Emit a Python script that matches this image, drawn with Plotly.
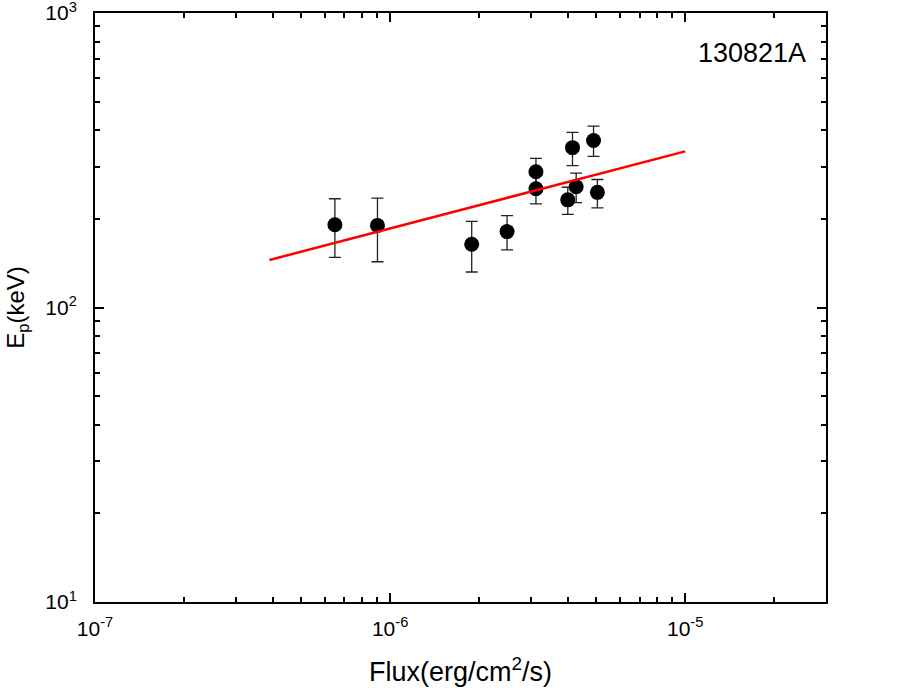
import plotly.graph_objects as go

# data
flux = [6.5e-7, 9.06e-7, 1.89e-6, 2.49e-6, 3.12e-6, 3.12e-6, 4.15e-6, 4.00e-6, 4.27e-6, 4.89e-6, 5.04e-6]
ep = [191, 190, 164, 181, 289, 253, 349, 232, 257, 369, 246]
ep_hi = [234, 235, 196, 205, 321, 285, 393, 256, 286, 413, 272]
ep_lo = [148, 143, 132, 157, 259, 225, 303, 207, 227, 326, 218]

fit_flux = [3.9e-7, 1.0e-5]
fit_ep = [145, 339]

x_tickvals = [1e-7, 1e-6, 1e-5]
x_ticktext = ['10<sup>-7</sup>', '10<sup>-6</sup>', '10<sup>-5</sup>']
y_tickvals = [10, 100, 1000]
y_ticktext = ['10<sup>1</sup>', '10<sup>2</sup>', '10<sup>3</sup>']

err_plus = [h - v for h, v in zip(ep_hi, ep)]
err_minus = [v - l for v, l in zip(ep, ep_lo)]

FONT = 'Liberation Sans, Arial, sans-serif'
TICK_FONT = dict(family=FONT, size=21, color='black')

fig = go.Figure()

fig.add_trace(go.Scatter(
    x=flux, y=ep,
    mode='markers',
    marker=dict(color='black', size=15),
    error_y=dict(type='data', symmetric=False, array=err_plus, arrayminus=err_minus,
                 color='#222222', thickness=1.3, width=6),
    showlegend=False,
))

fig.add_trace(go.Scatter(
    x=fit_flux, y=fit_ep,
    mode='lines',
    line=dict(color='#FF0000', width=2.5),
    showlegend=False,
))

fig.add_annotation(
    x=0.975, y=0.932, xref='paper', yref='paper',
    text='130821A', showarrow=False, xanchor='right', yanchor='middle',
    font=dict(family=FONT, size=27, color='black'),
)

axis_common = dict(
    type='log',
    showgrid=False, zeroline=False,
    showline=True, linecolor='black', linewidth=2,
    mirror='allticks',
    ticks='inside', ticklen=9, tickwidth=2, tickcolor='black',
    tickmode='array',
    automargin=False,
    ticklabeloverflow='allow',
    minor=dict(ticks='inside', ticklen=5, tickwidth=1.5, tickcolor='black',
               dtick='D1', showgrid=False),
)

fig.update_xaxes(
    **axis_common,
    range=[-7, -4.523],
    tickvals=x_tickvals, ticktext=x_ticktext,
    tickfont=TICK_FONT,
    ticklabelstandoff=7,
    title=dict(text='Flux(erg/cm<sup>2</sup>/s)', font=dict(family=FONT, size=27, color='black'),
               standoff=23),
)
fig.update_yaxes(
    **axis_common,
    range=[1, 3],
    tickvals=y_tickvals, ticktext=y_ticktext,
    tickfont=TICK_FONT,
    ticklabelstandoff=12,
    title=dict(text='E<sub>p</sub>(keV)', font=dict(family=FONT, size=24, color='black'),
               standoff=14),
)

fig.update_layout(
    width=917, height=695,
    margin=dict(l=95, r=91, t=13, b=93),
    plot_bgcolor='white',
    paper_bgcolor='white',
    font=dict(family=FONT, color='black'),
)

# drop the default page margin so the figure sits at the top-left corner
fig.write_html("out.html", config={'displayModeBar': False},
               post_script="document.body.style.margin='0';")
